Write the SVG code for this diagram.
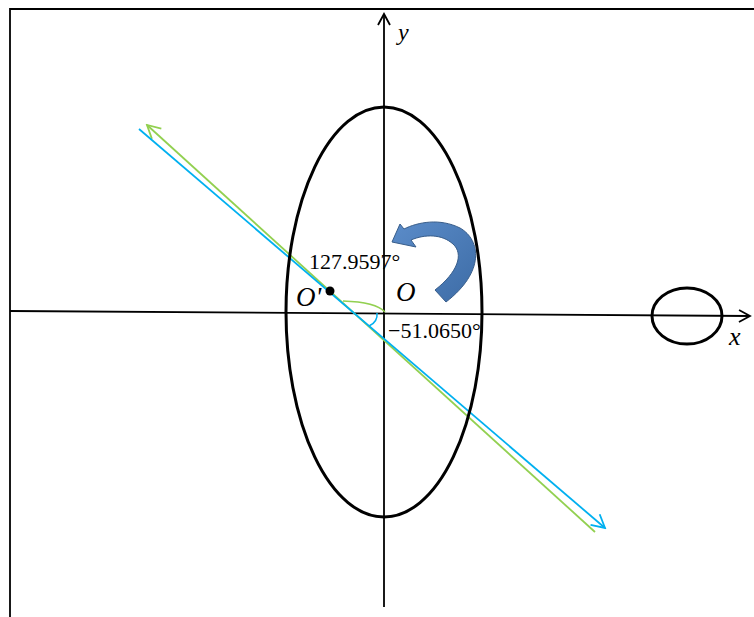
<svg xmlns="http://www.w3.org/2000/svg" width="754" height="617" viewBox="0 0 754 617">
<style>
.ax{stroke:#000;stroke-width:1.8;fill:none}
.el{stroke:#000;stroke-width:3;fill:none}
.lbl{font-family:"Liberation Serif","Times New Roman",serif;font-size:22px;fill:#000}
.it{font-family:"Liberation Serif","Times New Roman",serif;font-style:italic;fill:#000}
</style>
<defs>
<marker id="ak" markerWidth="14" markerHeight="14" refX="12" refY="7" orient="auto" markerUnits="userSpaceOnUse"><path d="M1,1 L12,7 L1,13" fill="none" stroke="#000" stroke-width="1.8"/></marker>
<marker id="ag" markerWidth="16" markerHeight="16" refX="14" refY="8" orient="auto" markerUnits="userSpaceOnUse"><path d="M1,1 L14,8 L1,15" fill="none" stroke="#92D050" stroke-width="1.8"/></marker>
<marker id="ab" markerWidth="16" markerHeight="16" refX="14" refY="8" orient="auto" markerUnits="userSpaceOnUse"><path d="M1,1 L14,8 L1,15" fill="none" stroke="#00B0F0" stroke-width="1.8"/></marker>
<linearGradient id="gr" x1="0" y1="0" x2="1" y2="1"><stop offset="0" stop-color="#5B8CC9"/><stop offset="1" stop-color="#3D6CA6"/></linearGradient>
</defs>
<rect width="754" height="617" fill="#fff"/>
<g id="frame"><path class="ax" d="M10,617 L10,9 L754,9"/></g>
<g id="connectors">
<line class="ax" x1="10" y1="311" x2="750" y2="316" marker-end="url(#ak)"/>
<line class="ax" x1="384" y1="607" x2="384" y2="14" marker-end="url(#ak)"/>
<line x1="595" y1="532" x2="147" y2="125" stroke="#92D050" stroke-width="1.8" marker-end="url(#ag)"/>
<line x1="139" y1="129" x2="605" y2="528" stroke="#00B0F0" stroke-width="1.8" marker-end="url(#ab)"/>
<path d="M343,301 Q376,302 385,312" fill="none" stroke="#92D050" stroke-width="1.5"/>
<path d="M377,313 Q378,322 369,326" fill="none" stroke="#00B0F0" stroke-width="1.5"/>
</g>
<g id="big-ellipse"><ellipse class="el" cx="384" cy="312" rx="98" ry="205"/></g>
<g id="small-ellipse"><ellipse class="el" cx="687" cy="316" rx="35" ry="28"/></g>
<g id="rotation-arrow"><path d="M392,242 L400,224 L404,229 C418,222 440,218 460,228 C481,240 485,272 446,302 L435,290 C458,272 464,254 453,244 C442,234 425,234 411,240 L416,247 Z" fill="url(#gr)" stroke="#385D8A" stroke-width="1"/></g>
<g id="point-O-prime"><circle cx="330" cy="291" r="4.5" fill="#000"/></g>
<g id="labels">
<text class="it" x="398" y="40" font-size="24">y</text>
<text class="it" x="729" y="345" font-size="26">x</text>
<text class="it" x="296" y="306" font-size="27">O'</text>
<text class="it" x="396" y="301" font-size="27">O</text>
<text class="lbl" x="309" y="269">127.9597°</text>
<text class="lbl" x="388" y="338">−51.0650°</text>
</g>
</svg>
